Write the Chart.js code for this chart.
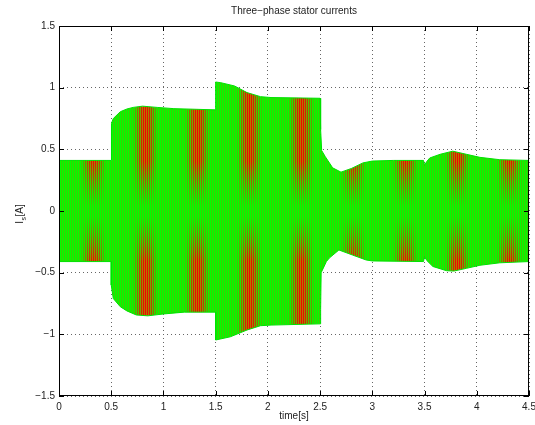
<!DOCTYPE html>
<html>
<head>
<meta charset="utf-8">
<script src="https://cdn.jsdelivr.net/npm/chart.js"></script>
<style>
  html, body { margin: 0; padding: 0; background: #fff; }
  #wrap { width: 535px; height: 425px; }
</style>
</head>
<body>
<div id="wrap"><canvas id="statorChart" width="535" height="425"></canvas></div>
<script>
// envelope of the three stator currents (peaks)
const upperTime = [0, 0.5, 0.5, 0.505, 0.52, 0.587, 0.65, 0.71, 0.8, 0.94, 1.1, 1.5, 1.5, 1.55, 1.68, 1.8, 1.93, 2.03, 2.5, 2.505,
  2.515, 2.55, 2.62, 2.7, 2.8, 2.91, 3.0, 3.2, 3.49, 3.5, 3.52, 3.55, 3.65, 3.77, 3.9, 4.03, 4.22, 4.5];
const upperCurrent = [0.41, 0.41, 0.66, 0.71, 0.75, 0.805, 0.827, 0.84, 0.85, 0.84, 0.83, 0.82, 1.046, 1.04, 1.014, 0.96, 0.927, 0.92, 0.914, 0.66,
  0.49, 0.44, 0.35, 0.315, 0.345, 0.39, 0.405, 0.41, 0.41, 0.37, 0.40, 0.43, 0.46, 0.485, 0.46, 0.435, 0.416, 0.41];

const lowerTime = [0, 0.5, 0.5, 0.52, 0.587, 0.65, 0.74, 0.85, 1.0, 1.2, 1.5, 1.5, 1.64, 1.8, 1.93, 2.03, 2.5, 2.505, 2.51, 2.56,
  2.59, 2.68, 2.81, 2.94, 3.0, 3.49, 3.5, 3.52, 3.58, 3.71, 3.78, 3.9, 4.03, 4.22, 4.5];
const lowerCurrent = [-0.41, -0.41, -0.6, -0.71, -0.776, -0.81, -0.843, -0.85, -0.835, -0.82, -0.82, -1.046, -1.02, -0.965, -0.93, -0.925, -0.915, -0.8, -0.5, -0.41,
  -0.38, -0.316, -0.357, -0.397, -0.405, -0.41, -0.37, -0.40, -0.45, -0.484, -0.487, -0.465, -0.44, -0.42, -0.41];

const xTicks = [0, 0.5, 1, 1.5, 2, 2.5, 3, 3.5, 4, 4.5];
const yTicks = [-1.5, -1, -0.5, 0, 0.5, 1, 1.5];

const FONT = "'Liberation Sans', Arial, Helvetica, sans-serif";
const tickFont = { family: FONT, size: 10 };

function toPoints(xs, ys) {
  return xs.map((x, i) => ({ x, y: ys[i] }));
}

function fmt(v) {
  return String(v).replace('-', '\u2212');
}

function mix(a, b, t) {
  return Math.round(a + (b - a) * t);
}

// green band with thin vertical traces, reddish where the phases pile up
let stripePattern = null;
function makeStripes(chart) {
  const zeroY = chart.scales.y.getPixelForValue(0);
  const w = 52, h = chart.height;
  const c = document.createElement('canvas');
  c.width = w; c.height = h;
  const g = c.getContext('2d');
  const img = g.createImageData(w, h);
  for (let x = 0; x < w; x++) {
    const band = Math.pow(Math.max(0, Math.cos(2 * Math.PI * (x - 41) / w)), 1.2);
    for (let y = 0; y < h; y++) {
      const i = (y * w + x) * 4;
      const d = Math.abs(y - zeroY);
      const v = Math.min(1, Math.max(0, (d - 5) / 45));
      const red = band * v;
      let r, gr;
      if (x % 2 === 1) {
        r = mix(60, 235, red);
        gr = mix(205, 10, red);
      } else {
        r = mix(0, 190, red * red);
        gr = mix(255, 110, red * red);
      }
      img.data[i] = r; img.data[i + 1] = gr; img.data[i + 2] = 0; img.data[i + 3] = 255;
    }
  }
  g.putImageData(img, 0, 0);
  return g.createPattern(c, 'repeat');
}

function stripeFill(context) {
  const chart = context.chart;
  if (!chart.chartArea || !chart.scales.y) return '#00ff00';
  if (!stripePattern) stripePattern = makeStripes(chart);
  return stripePattern;
}

const framePlugin = {
  id: 'frame',
  afterDraw(chart) {
    const { ctx, chartArea: a, scales } = chart;
    ctx.save();
    ctx.strokeStyle = '#000';
    ctx.lineWidth = 1;
    ctx.strokeRect(Math.round(a.left) + 0.5, Math.round(a.top) + 0.5,
      Math.round(a.right - a.left) - 1, Math.round(a.bottom - a.top) - 1);
    ctx.beginPath();
    xTicks.forEach((v) => {
      const px = Math.round(scales.x.getPixelForValue(v)) + 0.5;
      ctx.moveTo(px, a.bottom); ctx.lineTo(px, a.bottom - 5);
      ctx.moveTo(px, a.top); ctx.lineTo(px, a.top + 5);
    });
    yTicks.forEach((v) => {
      const py = Math.round(scales.y.getPixelForValue(v)) + 0.5;
      ctx.moveTo(a.left, py); ctx.lineTo(a.left + 5, py);
      ctx.moveTo(a.right, py); ctx.lineTo(a.right - 5, py);
    });
    ctx.stroke();

    const cx = (a.left + a.right) / 2;
    const cy = (a.top + a.bottom) / 2;
    ctx.fillStyle = '#222';
    ctx.textAlign = 'center';
    ctx.textBaseline = 'middle';
    ctx.font = '10px ' + FONT;
    ctx.fillText('Three\u2212phase stator currents', cx, 11);
    ctx.fillText('time[s]', cx, 416);

    // y label: I with subscript s, then [A]
    ctx.translate(20, cy + 3);
    ctx.rotate(-Math.PI / 2);
    ctx.textAlign = 'left';
    ctx.font = '10px ' + FONT;
    const wI = ctx.measureText('I').width;
    const wA = ctx.measureText('[A]').width;
    ctx.font = '7px ' + FONT;
    const wS = ctx.measureText('s').width;
    const total = wI + wS + 1 + wA;
    const x0 = -total / 2;
    ctx.font = '10px ' + FONT;
    ctx.fillText('I', x0, 0);
    ctx.font = '7px ' + FONT;
    ctx.fillText('s', x0 + wI + 0.5, 4);
    ctx.font = '10px ' + FONT;
    ctx.fillText('[A]', x0 + wI + wS + 1, 0);
    ctx.restore();
  }
};

const ctx = document.getElementById('statorChart').getContext('2d');
new Chart(ctx, {
  type: 'line',
  data: {
    datasets: [
      {
        data: toPoints(upperTime, upperCurrent),
        borderColor: '#00e000', borderWidth: 1, pointRadius: 0, tension: 0,
        fill: 'origin', backgroundColor: stripeFill,
      },
      {
        data: toPoints(lowerTime, lowerCurrent),
        borderColor: '#00e000', borderWidth: 1, pointRadius: 0, tension: 0,
        fill: 'origin', backgroundColor: stripeFill,
      },
    ],
  },
  options: {
    responsive: false,
    animation: false,
    layout: { padding: { top: 26, right: 6, left: 0, bottom: 0 } },
    plugins: { legend: { display: false }, tooltip: { enabled: false } },
    scales: {
      x: {
        type: 'linear', min: 0, max: 4.5,
        afterBuildTicks: (s) => { s.ticks = xTicks.map((v) => ({ value: v })); },
        afterFit: (s) => { s.height = 29; s.paddingLeft = 0; s.paddingRight = 0; },
        grid: { color: '#666', lineWidth: 1, drawTicks: false },
        border: { display: false, dash: [1, 3] },
        ticks: { padding: 5, font: tickFont, color: '#222', maxRotation: 0, callback: (v) => fmt(v) },
      },
      y: {
        type: 'linear', min: -1.5, max: 1.5,
        afterBuildTicks: (s) => { s.ticks = yTicks.map((v) => ({ value: v })); },
        afterFit: (s) => { s.width = 59; s.paddingTop = 0; s.paddingBottom = 0; },
        grid: { color: '#666', lineWidth: 1, drawTicks: false },
        border: { display: false, dash: [1, 3] },
        ticks: { padding: 4, font: tickFont, color: '#222', callback: (v) => fmt(v) },
      },
    },
  },
  plugins: [framePlugin],
});
</script>
</body>
</html>
